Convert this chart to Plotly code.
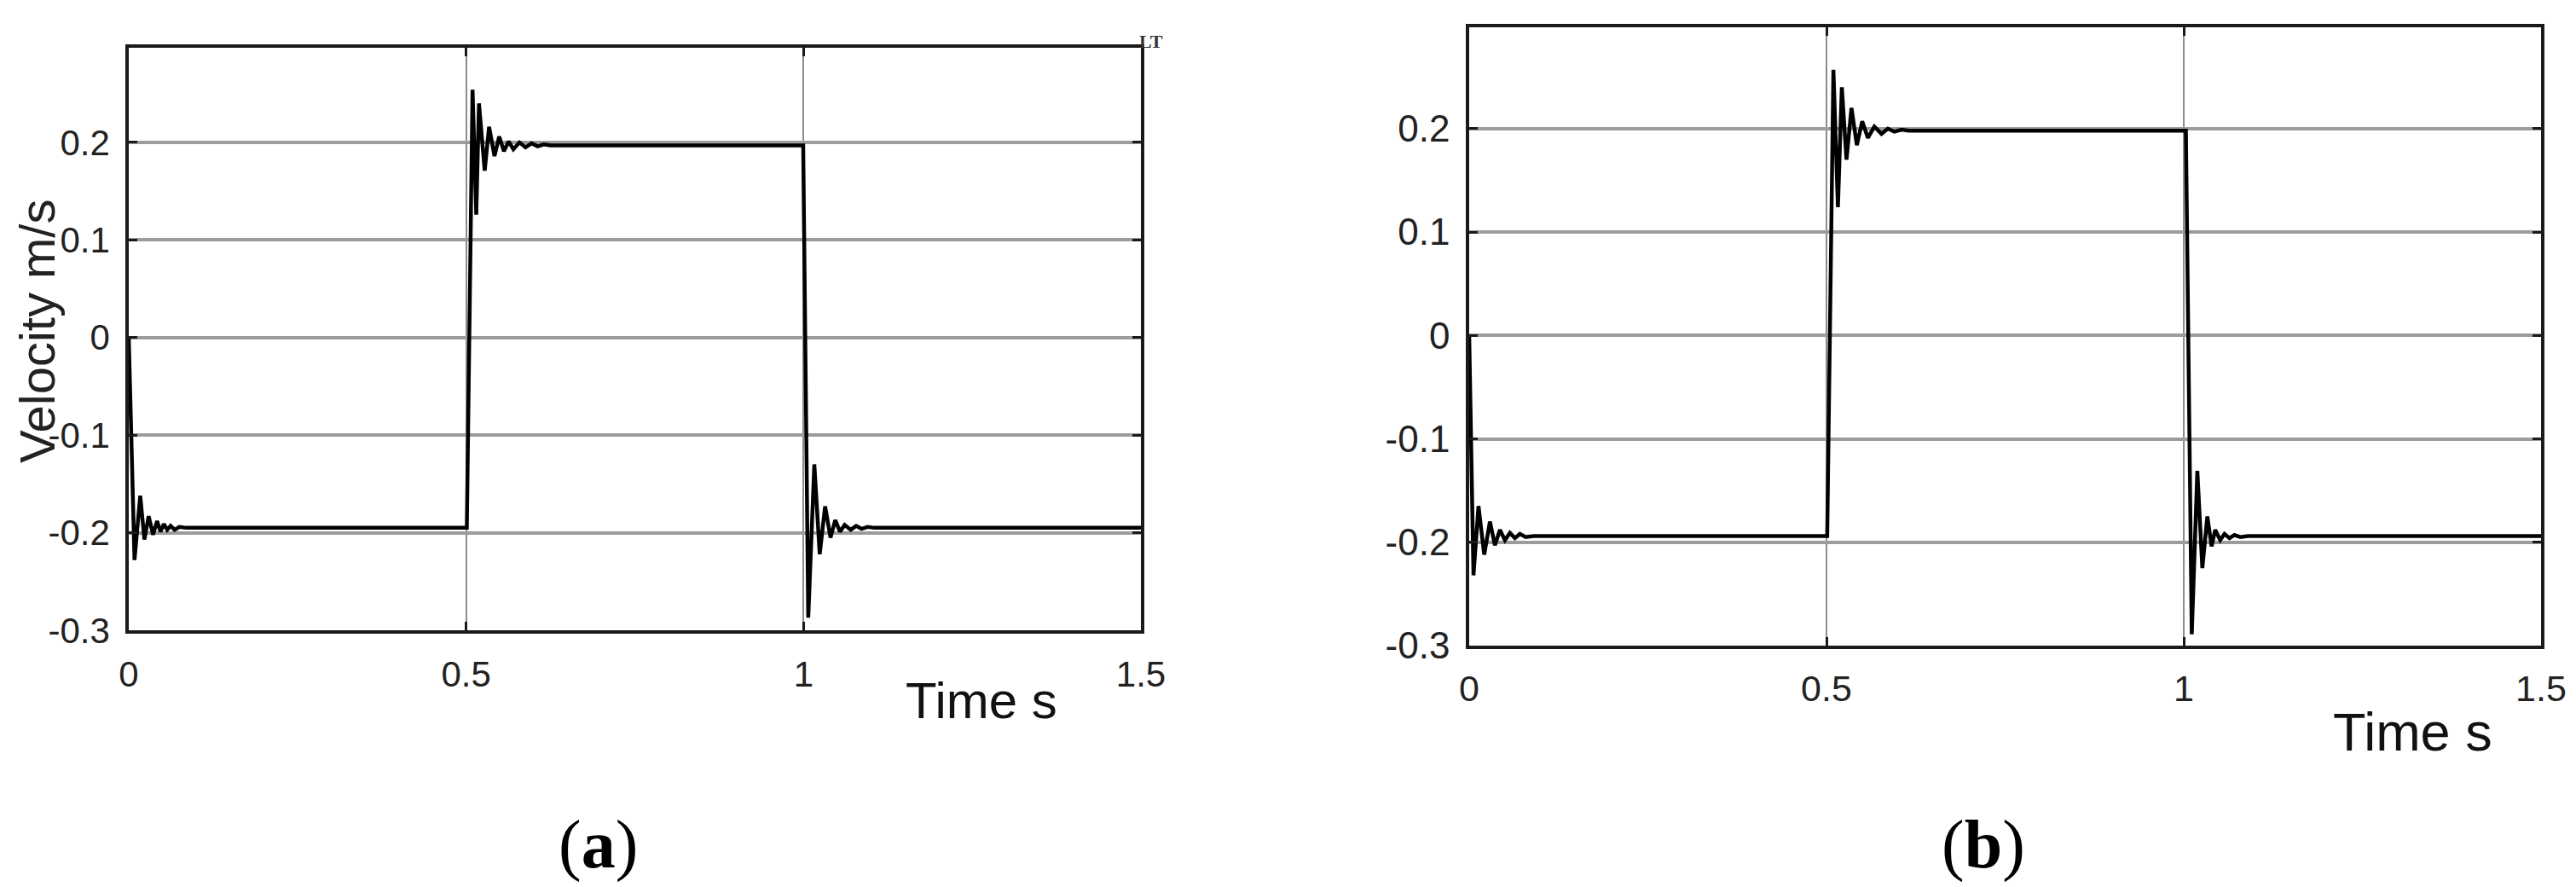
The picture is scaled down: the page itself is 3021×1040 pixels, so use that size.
import plotly.graph_objects as go

W, H = 3021, 1040

# ---- data (time in s, velocity in m/s) ----
# panel (a)
t_a = [0.000, 0.0085, 0.017, 0.0232, 0.0295, 0.036, 0.042, 0.047, 0.052, 0.057, 0.062, 0.068, 0.075, 0.085,
       0.501, 0.5095, 0.515, 0.519, 0.5275, 0.534, 0.542, 0.549, 0.556, 0.563, 0.570, 0.579, 0.588,
       0.597, 0.606, 0.615, 0.625,
       0.9995, 1.007, 1.016, 1.024, 1.032, 1.040, 1.047, 1.054, 1.061, 1.070, 1.078, 1.086, 1.095, 1.105,
       1.500]
v_a = [0.000, -0.228, -0.162, -0.207, -0.183, -0.202, -0.188, -0.199, -0.191, -0.197, -0.193, -0.197, -0.194, -0.195,
       -0.195, 0.254, 0.126, 0.240, 0.171, 0.216, 0.186, 0.206, 0.191, 0.201, 0.193, 0.200, 0.195,
       0.199, 0.196, 0.198, 0.197,
       0.197, -0.287, -0.130, -0.222, -0.173, -0.205, -0.187, -0.199, -0.192, -0.197, -0.193, -0.196, -0.194, -0.195,
       -0.195]

# panel (b)
t_b = [0.000, 0.006, 0.013, 0.021, 0.029, 0.036, 0.043, 0.050, 0.057, 0.064, 0.071, 0.079, 0.090,
       0.501, 0.5097, 0.516, 0.5215, 0.528, 0.535, 0.5425, 0.550, 0.558, 0.567, 0.577, 0.586,
       0.595, 0.605, 0.615,
       1.003, 1.0112, 1.019, 1.026, 1.033, 1.039, 1.044, 1.051, 1.057, 1.064, 1.071, 1.079, 1.090,
       1.500]
v_b = [0.000, -0.232, -0.165, -0.212, -0.180, -0.203, -0.188, -0.198, -0.191, -0.196, -0.192, -0.195, -0.194,
       -0.194, 0.257, 0.124, 0.240, 0.170, 0.220, 0.184, 0.207, 0.191, 0.202, 0.195, 0.200,
       0.197, 0.199, 0.198,
       0.198, -0.289, -0.131, -0.225, -0.175, -0.204, -0.188, -0.198, -0.192, -0.196, -0.193, -0.195, -0.194,
       -0.194]

x_ticks = [0, 0.5, 1, 1.5]
x_labels = ["0", "0.5", "1", "1.5"]
y_ticks = [-0.3, -0.2, -0.1, 0, 0.1, 0.2]
y_labels = ["-0.3", "-0.2", "-0.1", "0", "0.1", "0.2"]

SANS = "Liberation Sans, Arial, sans-serif"
SERIF = "Liberation Serif, Times New Roman, serif"


def px_x(p):
    return p / W


def px_y(p):
    return 1 - p / H


fig = go.Figure()
fig.add_trace(go.Scatter(x=t_a, y=v_a, mode="lines", xaxis="x", yaxis="y",
                         line=dict(color="black", width=4.5), showlegend=False))
fig.add_trace(go.Scatter(x=t_b, y=v_b, mode="lines", xaxis="x2", yaxis="y2",
                         line=dict(color="black", width=4.5), showlegend=False))


def xaxis(domain, anchor, size, standoff):
    return dict(domain=domain, anchor=anchor, range=[0, 1.5], automargin=False,
                tickvals=x_ticks, ticktext=x_labels,
                showline=True, mirror="ticks", linecolor="#1a1a1a", linewidth=3.5,
                ticks="inside", ticklen=10, tickwidth=3, tickcolor="#1a1a1a",
                showgrid=True, gridcolor="#8c8c8c", gridwidth=1.5, zeroline=False,
                ticklabelstandoff=standoff,
                tickfont=dict(family=SANS, size=size, color="#222"))


def yaxis(domain, anchor, top, size):
    return dict(domain=domain, anchor=anchor, range=[-0.3, top], automargin=False,
                tickvals=y_ticks, ticktext=y_labels,
                showline=True, mirror="ticks", linecolor="#1a1a1a", linewidth=3.5,
                ticks="inside", ticklen=10, tickwidth=3, tickcolor="#1a1a1a",
                showgrid=True, gridcolor="#9c9c9c", gridwidth=4, zeroline=False,
                ticklabelstandoff=10,
                tickfont=dict(family=SANS, size=size, color="#222"))


fig.update_layout(
    width=W, height=H, autosize=False,
    margin=dict(l=0, r=0, t=0, b=0),
    paper_bgcolor="white", plot_bgcolor="white",
    xaxis=xaxis([px_x(143), px_x(1330)], "y", 42, 12),
    yaxis=yaxis([px_y(731), px_y(48)], "x", 0.297, 42),
    xaxis2=xaxis([px_x(1715), px_x(2972)], "y2", 43, 10),
    yaxis2=yaxis([px_y(749), px_y(24)], "x2", 0.298, 44),
)

annotations = [
    dict(text="Velocity m/s", x=px_x(35), y=px_y(381), textangle=-90,
         font=dict(family=SANS, size=58, color="#222")),
    dict(text="Time s", x=px_x(1143), y=px_y(813),
         font=dict(family=SANS, size=60, color="#111")),
    dict(text="Time s", x=px_x(2821), y=px_y(850),
         font=dict(family=SANS, size=63, color="#111")),
    dict(text="(<b>a</b>)", x=px_x(693), y=px_y(982),
         font=dict(family=SERIF, size=80, color="black")),
    dict(text="(<b>b</b>)", x=px_x(2318), y=px_y(982),
         font=dict(family=SERIF, size=80, color="black")),
    dict(text="<b>LT</b>", x=px_x(1342), y=px_y(41),
         font=dict(family=SERIF, size=22, color="#333")),
]
for a in annotations:
    a.update(xref="paper", yref="paper", showarrow=False, xanchor="center", yanchor="middle")
fig.update_layout(annotations=annotations)

fig.write_html("out.html")
